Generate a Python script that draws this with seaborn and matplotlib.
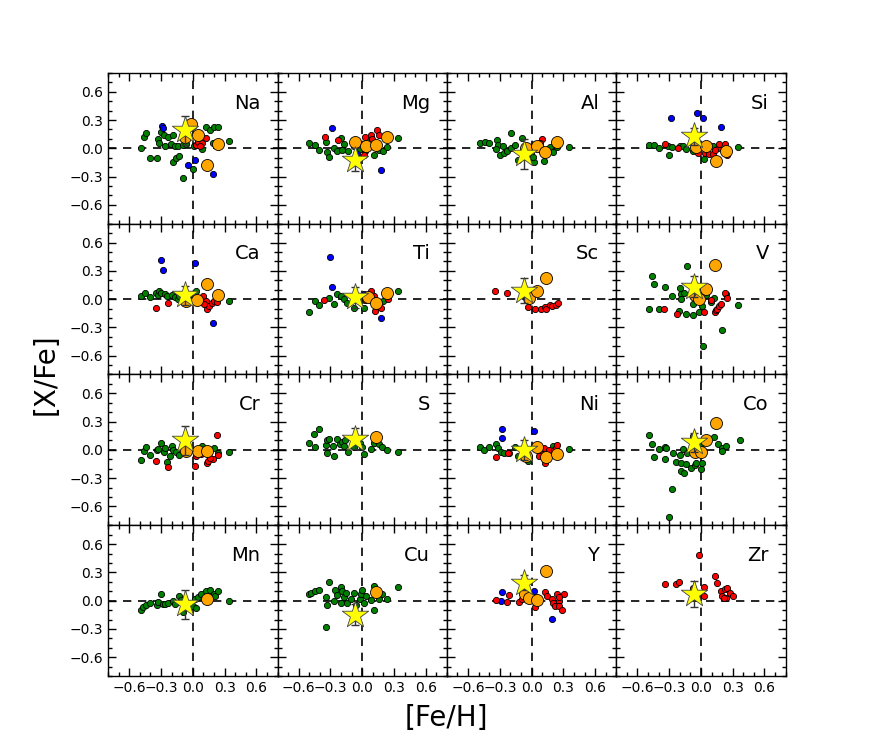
import numpy as np
import pandas as pd
import matplotlib
matplotlib.use('Agg')
import matplotlib.pyplot as plt
from matplotlib.ticker import MultipleLocator
import seaborn as sns

elements = ['Na', 'Mg', 'Al', 'Si', 'Ca', 'Ti', 'Sc', 'V',
            'Cr', 'S', 'Ni', 'Co', 'Mn', 'Cu', 'Y', 'Zr']

# ([Fe/H], [X/Fe]) pairs, one dict per sample
green = {
    'Na': [(-0.49, 0.0), (-0.46, 0.12), (-0.44, 0.16), (-0.40, -0.10), (-0.34, -0.10), (-0.33, 0.10),
           (-0.32, 0.06), (-0.30, 0.17), (-0.27, 0.14), (-0.26, 0.02), (-0.23, 0.12), (-0.21, 0.05),
           (-0.19, 0.14), (-0.19, -0.14), (-0.17, 0.02), (-0.16, -0.10), (-0.14, 0.03), (-0.13, -0.08),
           (-0.09, -0.31), (-0.09, 0.04), (-0.06, 0.05), (0.0, -0.22), (0.01, 0.02), (0.03, 0.04),
           (0.09, -0.01), (0.12, 0.23), (0.16, 0.19), (0.20, 0.23), (0.24, 0.23), (0.19, 0.06), (0.34, 0.08)],
    'Mg': [(-0.50, 0.06), (-0.45, 0.04), (-0.41, -0.02), (-0.34, 0.07), (-0.33, -0.04), (-0.31, -0.09),
           (-0.27, 0.0), (-0.24, -0.03), (-0.20, 0.11), (-0.17, 0.05), (-0.19, -0.02), (-0.13, -0.03),
           (-0.08, 0.02), (-0.02, -0.01), (0.03, -0.03), (0.06, 0.08), (0.11, -0.07), (0.16, -0.02),
           (0.20, -0.03), (0.23, 0.01), (0.34, 0.11)],
    'Al': [(-0.49, 0.06), (-0.44, 0.07), (-0.40, 0.06), (-0.33, 0.09), (-0.32, 0.04), (-0.34, -0.01),
           (-0.30, -0.07), (-0.27, 0.03), (-0.26, -0.05), (-0.23, -0.03), (-0.19, 0.16), (-0.19, 0.0),
           (-0.16, 0.04), (-0.13, -0.12), (-0.09, 0.11), (-0.01, -0.06), (0.02, -0.14), (0.01, -0.09),
           (0.03, 0.05), (0.12, -0.13), (0.17, 0.01), (0.20, -0.04), (0.24, 0.01), (0.35, 0.01)],
    'Si': [(-0.49, 0.04), (-0.44, 0.04), (-0.40, 0.0), (-0.31, 0.02), (-0.30, -0.07), (-0.27, 0.01),
           (-0.20, 0.02), (-0.17, 0.03), (-0.14, -0.01), (-0.08, -0.03), (-0.02, 0.0), (0.03, -0.11),
           (0.11, 0.02), (0.35, 0.01)],
    'Ca': [(-0.49, 0.03), (-0.45, 0.06), (-0.40, 0.02), (-0.35, 0.07), (-0.33, 0.04), (-0.32, 0.09),
           (-0.30, 0.06), (-0.26, 0.05), (-0.24, 0.03), (-0.20, 0.04), (-0.17, 0.02), (-0.14, 0.0),
           (-0.13, 0.03), (-0.09, -0.01), (-0.05, 0.02), (0.03, 0.09), (0.34, -0.02)],
    'Ti': [(-0.50, -0.14), (-0.45, -0.02), (-0.41, -0.06), (-0.31, 0.01), (-0.27, -0.05), (-0.24, 0.05),
           (-0.20, 0.03), (-0.17, 0.0), (-0.14, -0.04), (-0.08, -0.09), (-0.02, -0.02), (0.02, -0.09),
           (0.20, -0.02), (0.34, 0.09)],
    'Sc': [],
    'V': [(-0.46, 0.25), (-0.44, 0.16), (-0.49, -0.10), (-0.40, -0.10), (-0.34, 0.13), (-0.27, 0.03),
          (-0.20, 0.12), (-0.19, 0.05), (-0.19, 0.0), (-0.16, 0.07), (-0.21, -0.13), (-0.14, -0.16),
          (-0.08, -0.17), (-0.08, -0.05), (-0.13, 0.35), (-0.02, -0.14), (0.01, -0.07), (0.05, 0.04),
          (0.09, -0.03), (0.12, 0.01), (0.20, -0.33), (0.24, 0.05), (0.35, -0.06), (0.02, -0.50)],
    'Cr': [(-0.49, -0.11), (-0.46, -0.01), (-0.44, 0.03), (-0.40, -0.05), (-0.34, 0.0), (-0.33, 0.01),
           (-0.30, 0.07), (-0.27, -0.02), (-0.26, 0.02), (-0.22, -0.06), (-0.20, 0.04), (-0.19, 0.0),
           (-0.16, -0.02), (-0.13, -0.05), (-0.24, -0.13), (0.09, 0.04), (0.20, 0.02), (0.24, -0.03),
           (0.34, -0.02)],
    'S': [(-0.50, 0.07), (-0.46, 0.17), (-0.45, 0.03), (-0.41, 0.22), (-0.34, 0.05), (-0.33, 0.10),
          (-0.33, -0.03), (-0.31, 0.12), (-0.28, 0.04), (-0.27, -0.06), (-0.24, 0.12), (-0.21, 0.06),
          (-0.19, 0.08), (-0.17, 0.04), (-0.16, 0.10), (-0.13, -0.02), (-0.08, 0.03), (-0.02, 0.07),
          (0.0, 0.03), (0.02, -0.04), (0.08, 0.01), (0.11, 0.07), (0.16, 0.06), (0.19, 0.03),
          (0.23, 0.0), (0.34, -0.02)],
    'Ni': [(-0.49, 0.03), (-0.45, 0.0), (-0.40, 0.03), (-0.34, 0.06), (-0.32, 0.02), (-0.29, -0.02),
           (-0.26, -0.03), (-0.21, -0.03), (-0.16, 0.03), (-0.13, -0.06), (-0.03, -0.12), (0.03, 0.02),
           (0.20, 0.04), (0.35, 0.01)],
    'Co': [(-0.49, 0.16), (-0.46, 0.06), (-0.44, -0.08), (-0.40, 0.01), (-0.34, 0.03), (-0.33, 0.02),
           (-0.34, -0.10), (-0.27, -0.41), (-0.30, -0.71), (-0.26, -0.03), (-0.24, -0.13), (-0.20, -0.05),
           (-0.19, -0.14), (-0.19, -0.22), (-0.16, -0.25), (-0.17, 0.01), (-0.14, -0.15), (-0.09, -0.19),
           (-0.06, -0.16), (-0.05, -0.14), (0.01, -0.14), (0.0, -0.20), (0.0, 0.06), (-0.08, 0.15),
           (-0.13, -0.03), (0.12, 0.14), (0.16, 0.06), (0.20, 0.02), (0.24, 0.04), (0.20, -0.01),
           (0.37, 0.11)],
    'Mn': [(-0.49, -0.10), (-0.47, -0.07), (-0.44, -0.05), (-0.40, -0.03), (-0.34, -0.05), (-0.33, -0.01),
           (-0.30, 0.07), (-0.28, -0.04), (-0.26, -0.04), (-0.23, -0.03), (-0.19, 0.0), (-0.17, -0.04),
           (-0.13, 0.05), (-0.11, 0.01), (-0.09, -0.12), (0.0, -0.06), (0.03, -0.08), (0.02, 0.02),
           (0.05, 0.04), (0.08, 0.07), (0.12, 0.10), (0.16, 0.11), (0.20, 0.07), (0.21, 0.05),
           (0.24, 0.10), (0.34, 0.0)],
    'Cu': [(-0.50, 0.07), (-0.48, 0.08), (-0.45, 0.10), (-0.41, 0.11), (-0.34, 0.04), (-0.33, -0.05),
           (-0.34, -0.28), (-0.31, 0.20), (-0.27, 0.0), (-0.26, 0.11), (-0.24, 0.06), (-0.20, 0.14),
           (-0.20, -0.02), (-0.19, 0.10), (-0.17, 0.04), (-0.15, 0.08), (-0.14, -0.02), (-0.11, 0.02),
           (-0.08, 0.08), (-0.06, -0.05), (-0.02, 0.02), (-0.01, 0.07), (0.0, 0.11), (0.02, -0.02),
           (0.04, 0.05), (0.08, 0.01), (0.11, 0.16), (0.11, -0.10), (0.16, 0.02), (0.19, 0.07),
           (0.23, 0.02), (0.34, 0.14)],
    'Y': [],
    'Zr': [],
}

blue = {
    'Na': [(-0.29, 0.24), (-0.28, 0.22), (-0.05, -0.18), (0.02, -0.12), (0.19, -0.27)],
    'Mg': [(-0.29, 0.22), (0.02, 0.03), (-0.05, -0.06), (0.18, -0.23)],
    'Si': [(-0.28, 0.32), (-0.04, 0.38), (0.02, 0.32), (0.19, 0.23)],
    'Ca': [(-0.30, 0.41), (-0.28, 0.31), (0.02, 0.38), (0.19, -0.25)],
    'Ti': [(-0.30, 0.45), (-0.29, 0.13), (0.02, 0.05), (0.18, -0.20)],
    'Ni': [(-0.28, 0.22), (-0.28, 0.13), (0.02, 0.20), (0.19, -0.02)],
    'Y': [(-0.28, 0.09), (-0.29, 0.0), (0.02, 0.10), (0.19, -0.19)],
}

red = {
    'Na': [(0.03, 0.04), (0.05, 0.07), (0.09, 0.06), (0.12, 0.11), (0.07, 0.02)],
    'Mg': [(-0.35, 0.12), (-0.23, 0.09), (0.03, 0.12), (0.08, 0.14), (0.14, 0.19), (0.16, 0.14),
           (0.09, 0.10), (0.02, -0.07)],
    'Al': [(0.10, 0.10), (0.08, 0.06), (0.06, 0.03)],
    'Si': [(-0.34, 0.05), (-0.22, 0.0), (-0.03, -0.05), (0.04, -0.05), (0.08, -0.06), (0.11, -0.06),
           (0.16, 0.0), (0.17, 0.05), (0.23, 0.05), (0.25, -0.07), (0.13, -0.02)],
    'Ca': [(-0.35, -0.09), (-0.23, -0.04), (0.05, 0.0), (0.10, 0.03), (0.12, -0.02), (0.13, -0.10),
           (0.15, -0.07), (0.18, -0.04), (0.20, -0.02), (0.23, -0.03), (0.11, -0.05)],
    'Ti': [(-0.36, -0.01), (0.08, 0.09), (0.11, 0.03), (0.12, -0.13), (0.18, -0.09), (0.24, 0.0),
           (0.03, -0.01)],
    'Sc': [(-0.35, 0.09), (-0.23, 0.06), (-0.03, -0.08), (0.03, -0.11), (0.09, -0.10), (0.13, -0.08),
           (0.14, -0.11), (0.17, -0.06), (0.19, -0.07), (0.23, -0.06), (0.25, -0.04)],
    'V': [(-0.35, -0.10), (-0.23, -0.16), (0.03, -0.14), (0.09, -0.01), (0.13, -0.14), (0.14, -0.12),
          (0.15, -0.10), (0.17, -0.07), (0.19, -0.05), (0.23, 0.07), (0.25, 0.01)],
    'Cr': [(-0.35, -0.12), (-0.23, -0.18), (0.02, -0.17), (0.13, -0.14), (0.14, -0.12), (0.19, -0.10),
           (0.16, -0.09), (0.23, 0.16), (0.24, -0.05), (0.08, -0.04), (0.03, -0.06)],
    'Ni': [(-0.34, -0.08), (-0.22, -0.03), (0.08, -0.01), (0.10, -0.04), (0.12, 0.02), (0.13, -0.14),
           (0.16, 0.0), (0.21, 0.0), (0.23, 0.02), (0.24, 0.05), (0.07, -0.06)],
    'Y': [(-0.34, 0.01), (-0.23, -0.01), (-0.21, 0.06), (-0.12, -0.01), (-0.09, 0.02), (0.03, -0.07),
          (0.13, 0.09), (0.15, 0.05), (0.19, 0.02), (0.20, -0.03), (0.22, -0.06), (0.24, 0.07),
          (0.26, 0.0), (0.26, -0.06), (0.29, -0.10), (0.31, 0.07), (0.26, 0.04)],
    'Zr': [(-0.34, 0.18), (-0.24, 0.18), (-0.21, 0.20), (-0.02, 0.48), (-0.08, 0.13), (0.03, 0.14),
           (0.03, 0.05), (0.13, 0.26), (0.15, 0.19), (0.19, 0.10), (0.20, 0.05), (0.23, 0.12),
           (0.25, 0.13), (0.24, 0.03), (0.27, 0.08), (0.30, 0.05), (0.22, 0.03)],
}

orange = {
    'Na': [(-0.02, 0.26), (-0.07, 0.12), (0.05, 0.14), (0.24, 0.05), (0.13, -0.18)],
    'Mg': [(-0.07, 0.07), (0.04, 0.02), (0.13, 0.04), (0.23, 0.12)],
    'Al': [(-0.05, 0.0), (0.05, 0.03), (0.13, -0.04), (0.24, 0.07)],
    'Si': [(-0.05, 0.01), (0.05, 0.03), (0.14, -0.13), (0.24, -0.03)],
    'Ca': [(-0.06, -0.02), (0.04, -0.01), (0.13, 0.16), (0.24, 0.04)],
    'Ti': [(0.05, 0.02), (0.13, -0.04), (0.23, 0.06)],
    'Sc': [(-0.02, 0.01), (0.05, 0.09), (0.14, 0.22)],
    'V': [(-0.06, 0.04), (-0.02, 0.0), (0.05, 0.11), (0.13, 0.36)],
    'Cr': [(-0.06, -0.01), (0.05, -0.01), (0.13, -0.01)],
    'S': [(0.13, 0.14)],
    'Ni': [(-0.05, -0.06), (0.05, 0.03), (0.14, -0.08), (0.24, -0.04)],
    'Co': [(-0.06, -0.02), (0.0, -0.02), (0.05, 0.10), (0.14, 0.29)],
    'Mn': [(0.13, 0.02)],
    'Cu': [(0.13, 0.09)],
    'Y': [(-0.06, 0.07), (-0.02, 0.03), (0.05, 0.01), (0.14, 0.31)],
}

star_feh = [-0.07] * 16
star_xfe = [0.19, -0.12, -0.06, 0.13, 0.04, 0.02, 0.09, 0.13,
            0.10, 0.12, 0.0, 0.08, -0.04, -0.15, 0.19, 0.07]
star_err = [0.15, 0.12, 0.16, 0.09, 0.10, 0.11, 0.13, 0.11,
            0.15, 0.11, 0.11, 0.10, 0.15, 0.11, 0.08, 0.14]

# long table
rows = []
for name, table in [('green', green), ('blue', blue), ('red', red), ('orange', orange)]:
    for el, pts in table.items():
        for fe, xf in pts:
            rows.append({'element': el, 'sample': name, 'feh': fe, 'xfe': xf})
df = pd.DataFrame(rows)
stars = pd.DataFrame({'element': elements, 'feh': star_feh, 'xfe': star_xfe, 'err': star_err})

styles = {
    'green': dict(color='green', s=20),
    'blue': dict(color='blue', s=20),
    'red': dict(color='red', s=20),
    'orange': dict(color='orange', s=75),
}

sns.set_style('white')
plt.rcParams['font.family'] = ['DejaVu Sans']
plt.rcParams['text.color'] = 'black'
plt.rcParams['xtick.color'] = 'black'
plt.rcParams['ytick.color'] = 'black'
plt.rcParams['axes.labelcolor'] = 'black'

fig, axes = plt.subplots(4, 4, figsize=(8.72, 7.52), dpi=100, sharex=True, sharey=True)
fig.subplots_adjust(left=0.124, right=0.901, top=0.903, bottom=0.101, wspace=0, hspace=0)

for ax, el in zip(axes.flat, elements):
    ax.axhline(0, color='black', ls='--', lw=1.2, dashes=(5, 4), zorder=1)
    ax.axvline(0, color='black', ls='--', lw=1.2, dashes=(5, 4), zorder=1)
    sub = df[df['element'] == el]
    for name in ['green', 'blue', 'red', 'orange']:
        part = sub[sub['sample'] == name]
        if len(part) == 0:
            continue
        st = styles[name]
        sns.scatterplot(data=part, x='feh', y='xfe', ax=ax, color=st['color'], s=st['s'],
                        edgecolor='black', linewidth=0.6, legend=False, zorder=3)
    srow = stars[stars['element'] == el]
    ax.errorbar(srow['feh'], srow['xfe'], yerr=srow['err'], fmt='none', ecolor='#333333',
                elinewidth=1, capsize=3, zorder=4)
    sns.scatterplot(data=srow, x='feh', y='xfe', ax=ax, marker='*', s=400, color='yellow',
                    edgecolor='#444444', linewidth=0.6, legend=False, zorder=5)
    ax.text(0.9, 0.8, el, transform=ax.transAxes, ha='right', va='center', fontsize=14,
            color='black')

    ax.set_xlim(-0.8, 0.8)
    ax.set_ylim(-0.8, 0.8)
    ax.xaxis.set_major_locator(MultipleLocator(0.3))
    ax.xaxis.set_minor_locator(MultipleLocator(0.1))
    ax.yaxis.set_major_locator(MultipleLocator(0.3))
    ax.yaxis.set_minor_locator(MultipleLocator(0.1))
    ax.tick_params(which='both', direction='in', top=True, right=True, bottom=True, left=True,
                   labelsize=10, color='black', labelcolor='black')
    ax.tick_params(which='major', length=6, width=1)
    ax.tick_params(which='minor', length=3, width=1)
    ax.set_xlabel('')
    ax.set_ylabel('')
    for sp in ax.spines.values():
        sp.set_color('black')
        sp.set_linewidth(1)

fig.text(0.052, 0.502, '[X/Fe]', rotation=90, ha='center', va='center', fontsize=20, color='black')
fig.text(0.512, 0.045, '[Fe/H]', ha='center', va='center', fontsize=20, color='black')

fig.savefig('out.png', dpi=100)
